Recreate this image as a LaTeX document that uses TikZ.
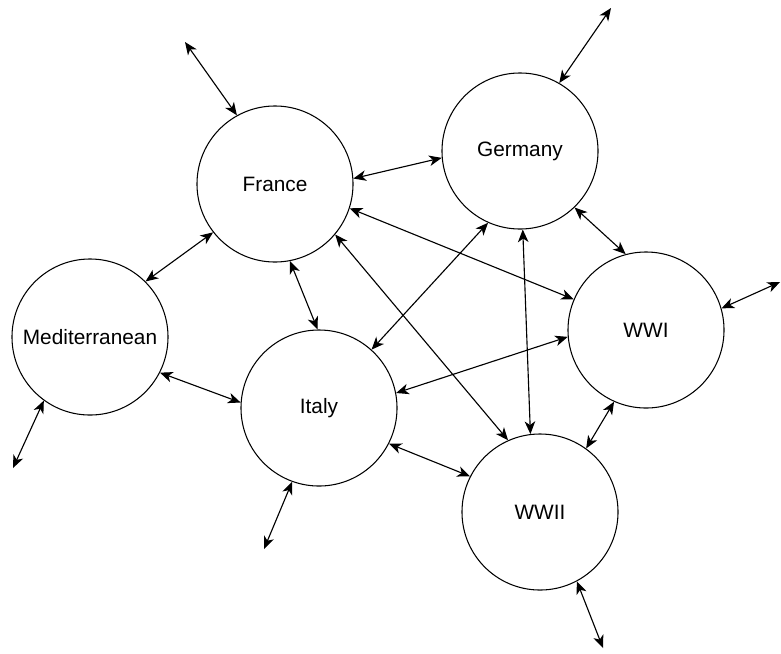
\documentclass[tikz,border=0pt]{standalone}
\usepackage{fontspec}
\setmainfont{Liberation Sans}
\usetikzlibrary{arrows.meta}

\begin{document}
\begin{tikzpicture}[x=0.025cm,y=-0.025cm,
  topic/.style={draw,circle,line width=0.75pt,minimum size=3.9cm,inner sep=0pt,
    font=\fontsize{14.8pt}{18pt}\selectfont},
  link/.style={line width=0.8pt,{Stealth[length=9pt,width=7.5pt,inset=2.6pt]}-{Stealth[length=9pt,width=7.5pt,inset=2.6pt]}}]
\useasboundingbox (0,0) rectangle (781,653);
\node[topic] (france) at (275,184) {France};
\node[topic] (germany) at (520,151) {Germany};
\node[topic] (med) at (90,337) {Mediterranean};
\node[topic] (italy) at (319,408) {Italy};
\node[topic] (wwi) at (646,330) {WWI};
\node[topic] (wwii) at (540,512) {WWII};
\coordinate (france-out) at (185,42);
\coordinate (germany-out) at (611,8);
\coordinate (med-out) at (13,468);
\coordinate (italy-out) at (264,549);
\coordinate (wwii-out) at (603,648);
\coordinate (wwi-out) at (780,282);
\draw[link] (france.119) -- (france-out);
\draw[link] (germany.60) -- (germany-out);
\draw[link] (med.-126) -- (med-out);
\draw[link] (italy.-110) -- (italy-out);
\draw[link] (wwii.-62) -- (wwii-out);
\draw[link] (wwi.16) -- (wwi-out);
\draw[link] (france.4) -- (germany.185);
\draw[link] (france.-142) -- (med.45);
\draw[link] (med.-27) -- (italy.176);
\draw[link] (france.-79) -- (italy.91);
\draw[link] (france.-40) -- (wwii.114);
\draw[link] (france.-18) -- (wwi.157);
\draw[link] (germany.-114) -- (italy.48);
\draw[link] (germany.-88) -- (wwii.97);
\draw[link] (germany.-46) -- (wwi.105);
\draw[link] (italy.11) -- (wwi.185);
\draw[link] (italy.-27) -- (wwii.153);
\draw[link] (wwi.-114) -- (wwii.54);
\end{tikzpicture}
\end{document}
